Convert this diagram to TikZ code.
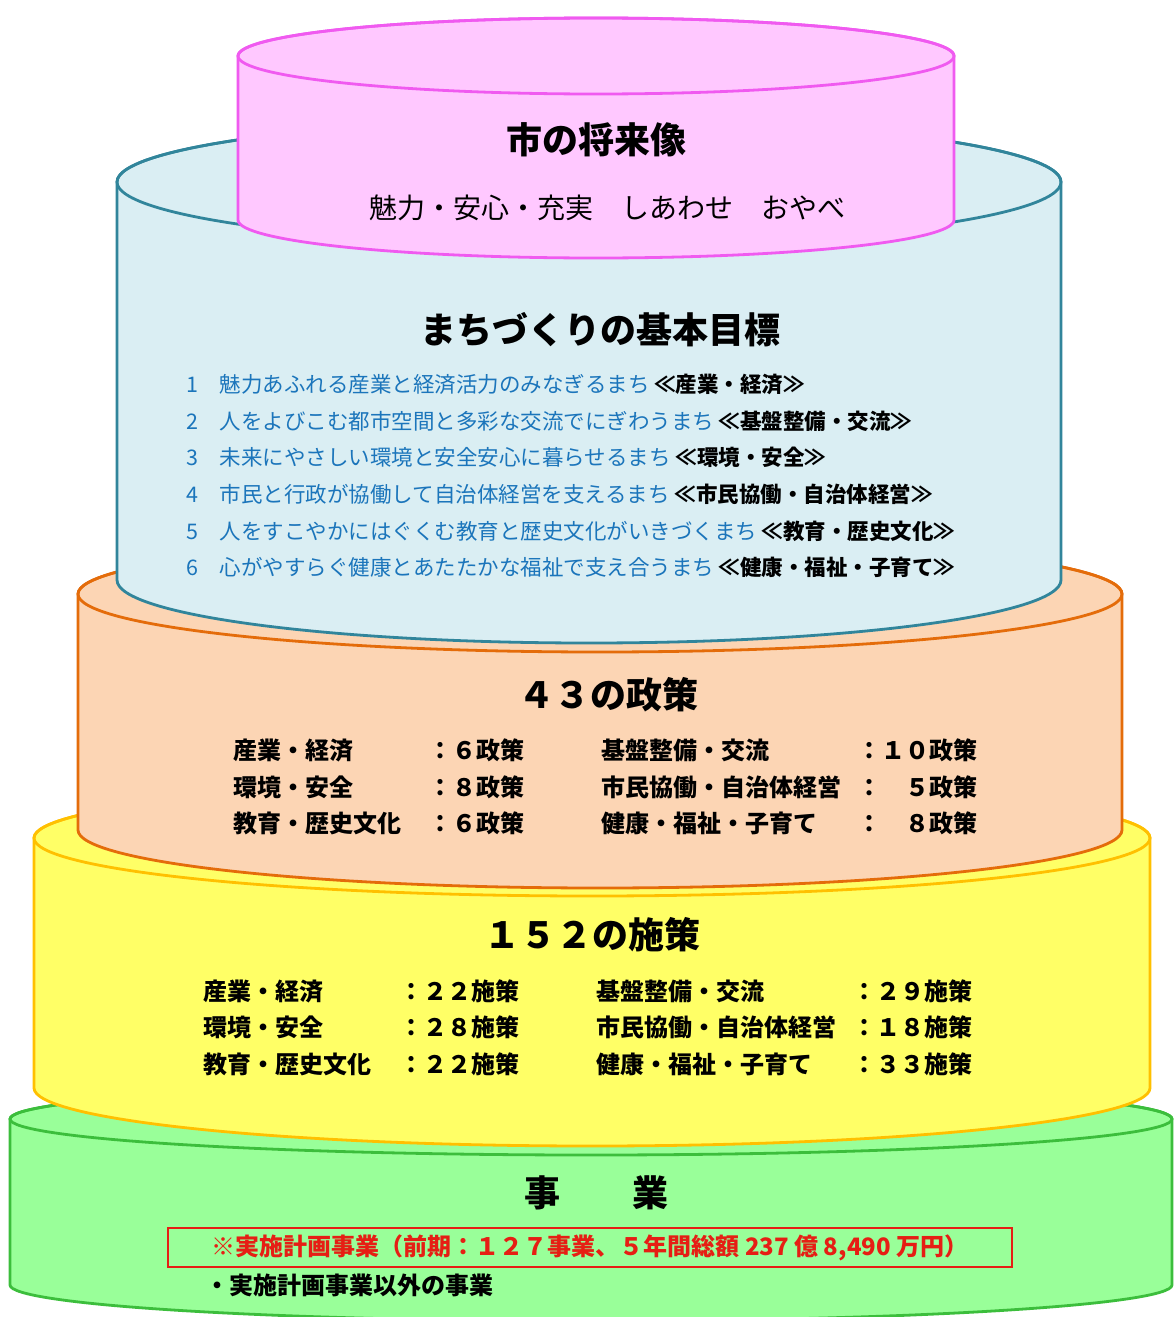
\documentclass[tikz,border=0pt]{standalone}
\usepackage{fontspec}
\setmainfont{Noto Sans CJK JP}
\usetikzlibrary{positioning}

\definecolor{pinkfill}{RGB}{255,200,255}
\definecolor{pinkline}{RGB}{240,90,240}
\definecolor{tealfill}{RGB}{218,238,243}
\definecolor{tealline}{RGB}{49,133,155}
\definecolor{orangefill}{RGB}{252,213,180}
\definecolor{orangeline}{RGB}{228,108,10}
\definecolor{yellowfill}{RGB}{255,255,102}
\definecolor{yellowline}{RGB}{255,192,0}
\definecolor{greenfill}{RGB}{153,255,153}
\definecolor{greenline}{RGB}{60,190,60}
\definecolor{goalblue}{RGB}{27,117,187}
\definecolor{planred}{RGB}{230,30,20}

% centre x, top y, bottom y, x radius, y radius, fill, line
\newcommand{\tier}[7]{%
  \filldraw[fill=#6,draw=#7,line width=2.8pt,line join=round]
    (#1-#4,#2) -- (#1-#4,#3) arc[start angle=180,end angle=360,x radius=#4,y radius=#5]
    -- (#1+#4,#2) arc[start angle=0,end angle=180,x radius=#4,y radius=#5] -- cycle;
  \draw[draw=#7,line width=2.8pt] (#1,#2) ellipse[x radius=#4,y radius=#5];
}

\begin{document}
\begin{tikzpicture}
	[x=1pt,y=1pt,
	title node/.style={font=\fontsize{36}{40}\selectfont\bfseries,inner sep=0},
	goal node/.style={anchor=west,inner sep=0,text=goalblue,font=\fontsize{21.5}{24}\selectfont},
	row node/.style={anchor=west,inner sep=0,font=\fontsize{24}{26}\selectfont\bfseries},
	count node/.style={anchor=east,inner sep=0,font=\fontsize{24}{26}\selectfont\bfseries}
	]

	\fill[white] (0,0) rectangle (1173,-1317);
	\useasboundingbox (0,0) rectangle (1173,-1317);

	% cake tiers, bottom first
	\tier{591}{-1119}{-1285}{581}{36}{greenfill}{greenline}
	\tier{592}{-838}{-1088}{558}{58}{yellowfill}{yellowline}
	\tier{600}{-594}{-830}{522}{58}{orangefill}{orangeline}
	\tier{589}{-182}{-580}{472}{63}{tealfill}{tealline}
	\tier{596}{-56}{-220}{358}{38}{pinkfill}{pinkline}

	% vision
	\node [title node] (vision) at (596,-140) {市の将来像};
	\node [inner sep=0,font=\fontsize{28}{30}\selectfont] (motto) at (607,-208) {魅力・安心・充実　しあわせ　おやべ};

	% goals
	\node [title node] (goals) at (600,-330) {まちづくりの基本目標};
	\node [goal node] (g1) at (186,-384) {1　魅力あふれる産業と経済活力のみなぎるまち \textcolor{black}{\bfseries ≪産業・経済≫}};
	\node [goal node] (g2) at (186,-421) {2　人をよびこむ都市空間と多彩な交流でにぎわうまち \textcolor{black}{\bfseries ≪基盤整備・交流≫}};
	\node [goal node] (g3) at (186,-457) {3　未来にやさしい環境と安全安心に暮らせるまち \textcolor{black}{\bfseries ≪環境・安全≫}};
	\node [goal node] (g4) at (186,-494) {4　市民と行政が協働して自治体経営を支えるまち \textcolor{black}{\bfseries ≪市民協働・自治体経営≫}};
	\node [goal node] (g5) at (186,-531) {5　人をすこやかにはぐくむ教育と歴史文化がいきづくまち \textcolor{black}{\bfseries ≪教育・歴史文化≫}};
	\node [goal node] (g6) at (186,-567) {6　心がやすらぐ健康とあたたかな福祉で支え合うまち \textcolor{black}{\bfseries ≪健康・福祉・子育て≫}};

	% policies
	\node [title node] (policy) at (608,-695) {４３の政策};
	\node [row node] (p1) at (233,-750) {産業・経済};
	\node [count node] (p1n) at (525,-750) {：６政策};
	\node [row node] (p2) at (233,-787) {環境・安全};
	\node [count node] (p2n) at (525,-787) {：８政策};
	\node [row node] (p3) at (233,-823) {教育・歴史文化};
	\node [count node] (p3n) at (525,-823) {：６政策};
	\node [row node] (p4) at (601,-750) {基盤整備・交流};
	\node [count node] (p4n) at (978,-750) {：１０政策};
	\node [row node] (p5) at (601,-787) {市民協働・自治体経営};
	\node [count node] (p5n) at (978,-787) {：　５政策};
	\node [row node] (p6) at (601,-823) {健康・福祉・子育て};
	\node [count node] (p6n) at (978,-823) {：　８政策};

	% measures
	\node [title node] (measure) at (592,-935) {１５２の施策};
	\node [row node] (m1) at (203,-991) {産業・経済};
	\node [count node] (m1n) at (520,-991) {：２２施策};
	\node [row node] (m2) at (203,-1027) {環境・安全};
	\node [count node] (m2n) at (520,-1027) {：２８施策};
	\node [row node] (m3) at (203,-1064) {教育・歴史文化};
	\node [count node] (m3n) at (520,-1064) {：２２施策};
	\node [row node] (m4) at (596,-991) {基盤整備・交流};
	\node [count node] (m4n) at (973,-991) {：２９施策};
	\node [row node] (m5) at (596,-1027) {市民協働・自治体経営};
	\node [count node] (m5n) at (973,-1027) {：１８施策};
	\node [row node] (m6) at (596,-1064) {健康・福祉・子育て};
	\node [count node] (m6n) at (973,-1064) {：３３施策};

	% projects
	\node [title node] (project) at (596,-1193) {事　　業};
	\node [draw=planred,line width=2.8pt,minimum width=844pt,minimum height=39pt,inner sep=0,
		text=planred,font=\fontsize{24}{26}\selectfont\bfseries] (plan) at (590,-1247.5)
		{※実施計画事業（前期：１２７事業、５年間総額 237 億 8,490 万円）};
	\node [row node] (other) at (205,-1285) {・実施計画事業以外の事業};

\end{tikzpicture}
\end{document}
